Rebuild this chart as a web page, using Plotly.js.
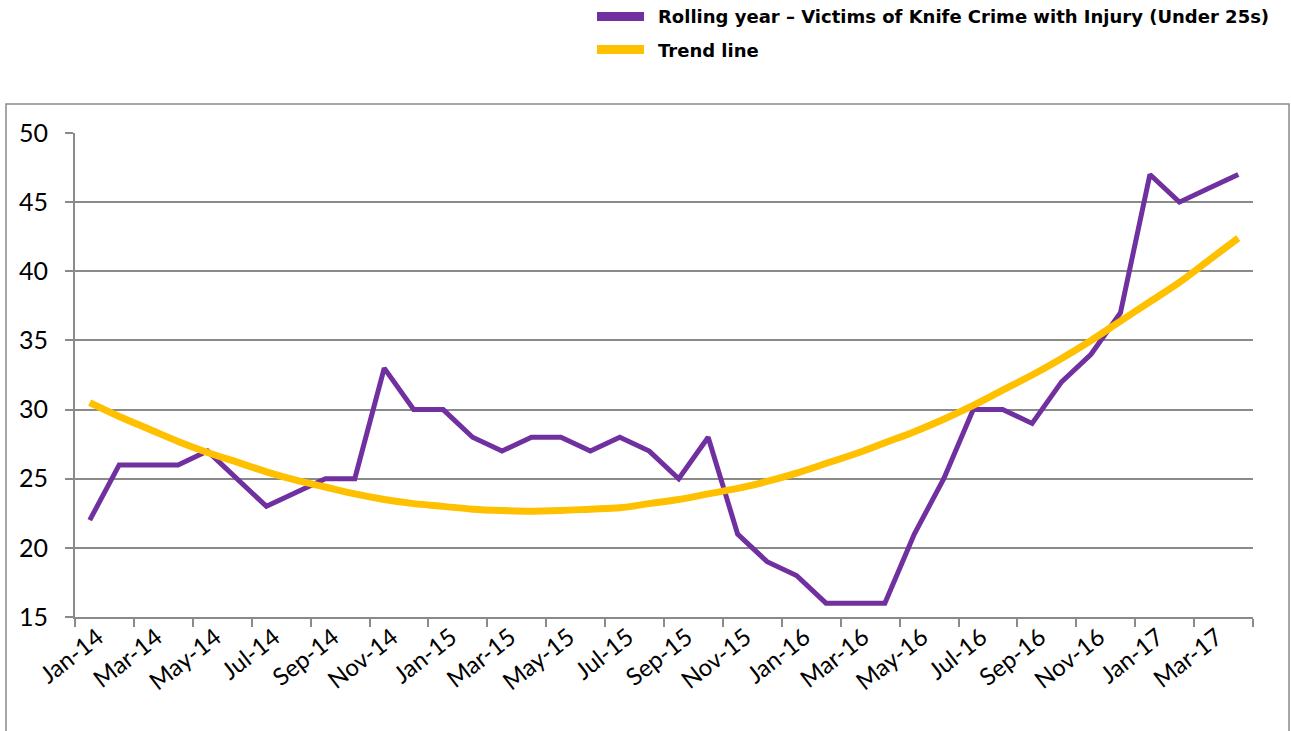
<!DOCTYPE html>
<html>
<head>
<meta charset="utf-8">
<script src="https://cdn.plot.ly/plotly-3.0.1.min.js"></script>
<style>html,body{margin:0;padding:0;background:#fff;}#chart{width:1291px;height:731px;}</style>
</head>
<body>
<div id="chart"></div>
<script>
// Month categories (Jan-14 .. Apr-17)
const months = ["Jan-14","Feb-14","Mar-14","Apr-14","May-14","Jun-14","Jul-14","Aug-14","Sep-14","Oct-14","Nov-14","Dec-14",
  "Jan-15","Feb-15","Mar-15","Apr-15","May-15","Jun-15","Jul-15","Aug-15","Sep-15","Oct-15","Nov-15","Dec-15",
  "Jan-16","Feb-16","Mar-16","Apr-16","May-16","Jun-16","Jul-16","Aug-16","Sep-16","Oct-16","Nov-16","Dec-16",
  "Jan-17","Feb-17","Mar-17","Apr-17"];

// Rolling year – Victims of Knife Crime with Injury (Under 25s)
const victims = [22,26,26,26,27,25,23,24,25,25,33,30,
  30,28,27,28,28,27,28,27,25,28,21,19,
  18,16,16,16,21,25,30,30,29,32,34,37,
  47,45,46,47];

// Trend line
const trend = [30.5,29.5,28.6,27.7,26.9,26.2,25.5,24.9,24.4,23.9,23.5,23.2,
  23.0,22.8,22.7,22.65,22.7,22.8,22.9,23.2,23.5,23.9,24.3,24.8,
  25.4,26.1,26.8,27.6,28.4,29.3,30.3,31.4,32.5,33.7,35.0,36.4,
  37.8,39.2,40.8,42.4];

const seriesNames = ["Rolling year \u2013 Victims of Knife Crime with Injury (Under 25s)", "Trend line"];
const yTicks = [15,20,25,30,35,40,45,50];

const idx = months.map((m, i) => i);
const labelIdx = idx.filter(i => i % 2 === 0);
const boundaries = [];
for (let b = -0.5; b <= months.length - 0.5; b += 2) boundaries.push(b);
if (boundaries[boundaries.length-1] !== months.length - 0.5) boundaries.push(months.length - 0.5);

const purple = '#7030A0', gold = '#FFC000', grey = '#8a8a8a';

const traces = [
  {x: idx, y: victims, type: 'scatter', mode: 'lines', name: seriesNames[0],
   line: {color: purple, width: 5}, hoverinfo: 'skip'},
  {x: idx, y: trend, type: 'scatter', mode: 'lines', name: seriesNames[1],
   line: {color: gold, width: 7, shape: 'spline'}, hoverinfo: 'skip'}
];

const W = 1291, H = 731, L = 75, R = 1253, T = 133, B = 617;
const px = v => (v - L) / (R - L);
const py = v => (B - v) / (B - T);

const layout = {
  width: W, height: H,
  margin: {l: L, r: W - R, t: T, b: H - B, pad: 0},
  paper_bgcolor: '#fff', plot_bgcolor: '#fff',
  showlegend: false,
  font: {family: 'Lato, "Liberation Sans", sans-serif', color: '#000'},
  xaxis: {
    type: 'linear', range: [-0.5, months.length - 0.5],
    tickmode: 'array', tickvals: labelIdx, ticktext: labelIdx.map(i => months[i]),
    tickangle: -38, ticks: '', showgrid: false, zeroline: false,
    showline: true, linecolor: grey, linewidth: 2,
    ticklabelstandoff: -5, ticklabelshift: 8,
    tickfont: {family: 'Lato, sans-serif', size: 24, color: '#000'},
    minor: {tickmode: 'array', tickvals: boundaries, ticks: 'outside', ticklen: 8, tickwidth: 2, tickcolor: grey, showgrid: false}
  },
  yaxis: {
    range: [15, 50], tickmode: 'array', tickvals: yTicks,
    ticks: 'outside', ticklen: 8, tickwidth: 2, tickcolor: grey,
    showgrid: true, gridcolor: grey, gridwidth: 2, zeroline: false,
    showline: true, linecolor: grey, linewidth: 2,
    ticklabelstandoff: 12,
    tickfont: {family: 'Lato, sans-serif', size: 25, color: '#000'}
  },
  shapes: [
    {type: 'rect', xref: 'paper', yref: 'paper', x0: px(6), x1: px(1289), y0: py(780), y1: py(104),
     line: {color: grey, width: 1.5}, fillcolor: 'rgba(0,0,0,0)', layer: 'below'},
    {type: 'line', xref: 'paper', yref: 'paper', x0: px(597), x1: px(644), y0: py(16.5), y1: py(16.5),
     line: {color: purple, width: 9}},
    {type: 'line', xref: 'paper', yref: 'paper', x0: px(597), x1: px(644), y0: py(49.5), y1: py(49.5),
     line: {color: gold, width: 9}}
  ],
  annotations: [
    {xref: 'paper', yref: 'paper', x: px(656), y: py(17), xanchor: 'left', yanchor: 'middle', showarrow: false,
     text: seriesNames[0], font: {family: '"DejaVu Sans", sans-serif', weight: 'bold', size: 18, color: '#000'}},
    {xref: 'paper', yref: 'paper', x: px(656), y: py(50), xanchor: 'left', yanchor: 'middle', showarrow: false,
     text: seriesNames[1], font: {family: '"DejaVu Sans", sans-serif', weight: 'bold', size: 18, color: '#000'}}
  ]
};

Plotly.newPlot('chart', traces, layout, {staticPlot: true, displayModeBar: false});
</script>
</body>
</html>
